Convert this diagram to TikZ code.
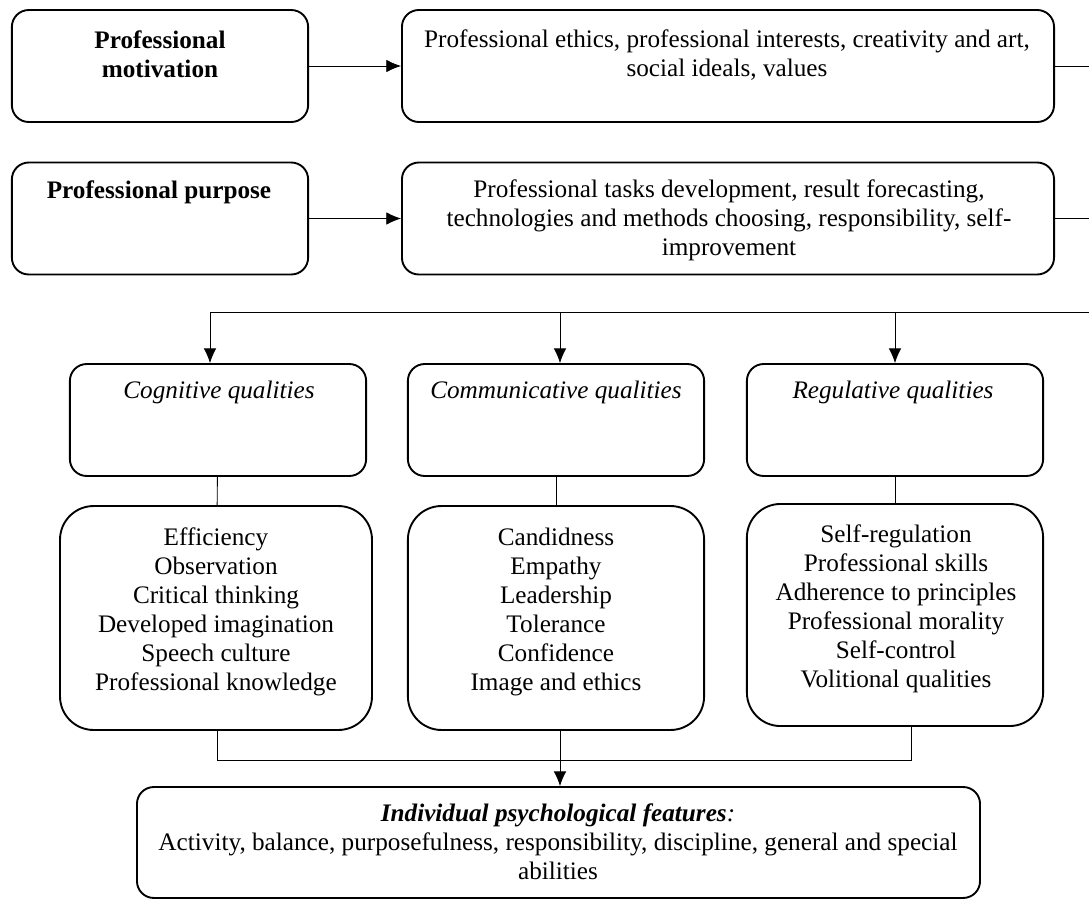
\documentclass[tikz,border=0pt]{standalone}
\usepackage{fontspec}
\setmainfont{Liberation Serif}
\usetikzlibrary{positioning,arrows.meta}

\begin{document}
\begin{tikzpicture}[x=0.476pt,y=-0.476pt,
		box/.style={draw, line width=0.9pt, rounded corners=8pt, minimum width=141pt, minimum height=53.3pt, inner sep=0pt},
		listbox/.style={draw, line width=0.9pt, rounded corners=16pt, minimum width=141pt, minimum height=106.6pt, inner sep=0pt},
		txt/.style={align=center, inner sep=0pt, font=\fontsize{12}{13.8}\selectfont},
		arr/.style={-{Latex[length=7pt,width=6pt]}}]
			\useasboundingbox (0,0) rectangle (1089,900);
			%--
			\node[box] (mot) at (160,66) {};
			\node[box, minimum width=310.4pt] (eth) at (728,66) {};
			\node[box] (pur) at (160,218.5) {};
			\node[box, minimum width=310.4pt] (tsk) at (728,218.5) {};
			\node[txt, font=\fontsize{12}{13.8}\selectfont\bfseries] (motT) at (160,54) {Professional\\motivation};
			\node[txt] (ethT) at (727,55) {Professional ethics, professional interests, creativity and art,\\social ideals, values};
			\node[txt, font=\fontsize{12}{13.8}\selectfont\bfseries] (purT) at (159,192) {Professional purpose};
			\node[txt] (tskT) at (729,220) {Professional tasks development, result forecasting,\\technologies and methods choosing, responsibility, self-\\improvement};
			%--
			\node[box] (cog) at (218,420) {};
			\node[box] (com) at (556,420) {};
			\node[box] (reg) at (895,420) {};
			\node[txt, font=\fontsize{12}{13.8}\selectfont\itshape] (cogT) at (219,392) {Cognitive qualities};
			\node[txt, font=\fontsize{12}{13.8}\selectfont\itshape] (comT) at (556,392) {Communicative qualities};
			\node[txt, font=\fontsize{12}{13.8}\selectfont\itshape] (regT) at (893,392) {Regulative qualities};
			%--
			\node[listbox, minimum width=148.5pt] (cogl) at (216,618) {};
			\node[listbox] (coml) at (556,618) {};
			\node[listbox, minimum height=105.7pt] (regl) at (895,615) {};
			\node[txt] (coglT) at (216,611.5) {Efficiency\\Observation\\Critical thinking\\Developed imagination\\Speech culture\\Professional knowledge};
			\node[txt] (comlT) at (556,611.5) {Candidness\\Empathy\\Leadership\\Tolerance\\Confidence\\Image and ethics};
			\node[txt] (reglT) at (896,608.5) {Self-regulation\\Professional skills\\Adherence to principles\\Professional morality\\Self-control\\Volitional qualities};
			%--
			\node[box, minimum width=401.3pt, minimum height=52.8pt] (feat) at (558.5,842.5) {};
			\node[txt] (featT) at (558,842) {\textbf{\textit{Individual psychological features}}\textit{:}\\Activity, balance, purposefulness, responsibility, discipline, general and special\\abilities};
			%--
			\coordinate (e1) at (1089,66);
			\coordinate (e2) at (1089,218.5);
			\coordinate (bus) at (1089,312);
			\coordinate (a1) at (210,312);
			\coordinate (a2) at (560,312);
			\coordinate (a3) at (895,312);
			\coordinate (j1) at (217,760);
			\coordinate (j2) at (911,760);
			\draw[arr] (mot) -- (eth);
			\draw[arr] (pur) -- (tsk);
			\draw (eth) -- (e1);
			\draw (tsk) -- (e2);
			\draw (bus) -- (a1);
			\draw[arr] (a1) -- (a1 |- cog.north);
			\draw[arr] (a2) -- (a2 |- com.north);
			\draw[arr] (a3) -- (a3 |- reg.north);
			\draw (cog) -- (cogl);
			\draw (com) -- (coml);
			\draw (reg) -- (regl);
			\draw (j1 |- cogl.south) -- (j1) -- (j2) -- (j2 |- regl.south);
			\draw[arr] (coml.south -| a2) -- (a2 |- feat.north);
		\end{tikzpicture}
\end{document}
